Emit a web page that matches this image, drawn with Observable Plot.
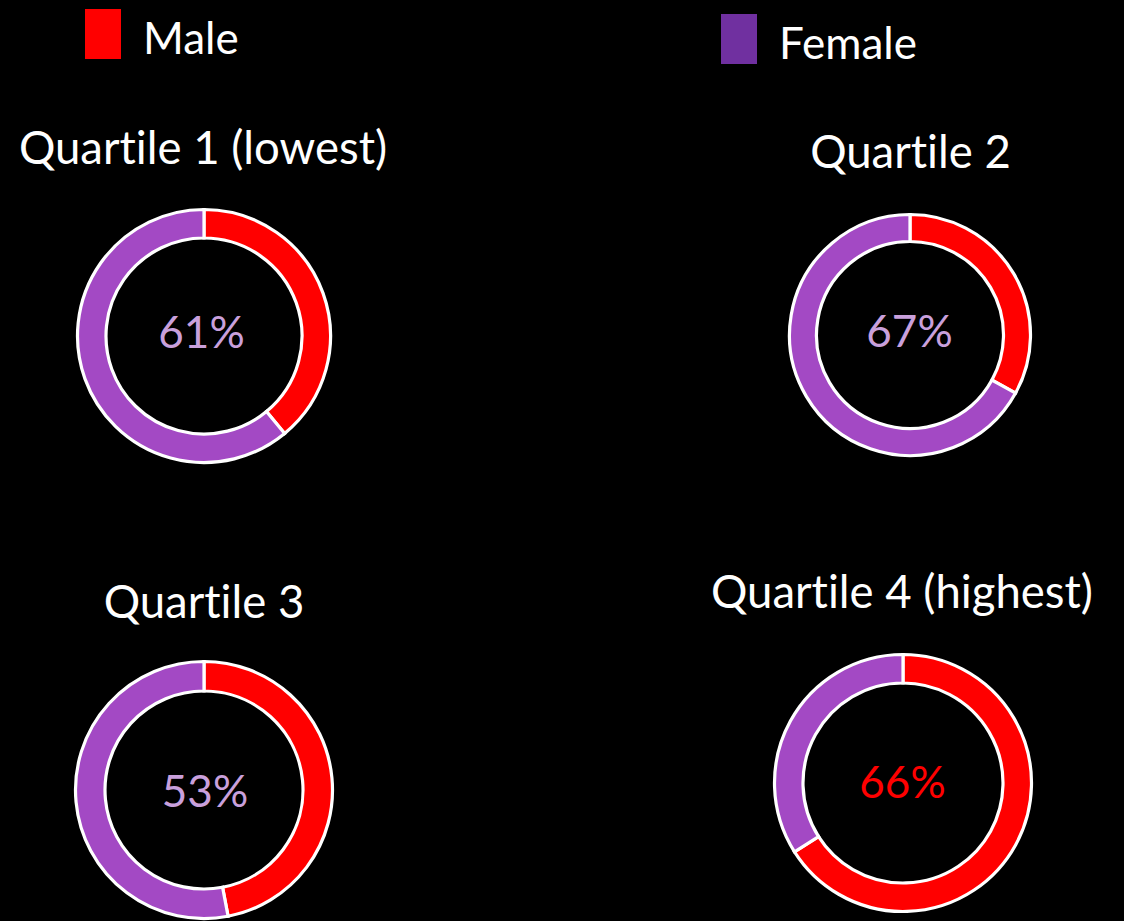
<!DOCTYPE html>
<html>
<head>
<meta charset="utf-8">
<script src="https://cdn.jsdelivr.net/npm/d3@7"></script>
<script src="https://cdn.jsdelivr.net/npm/@observablehq/plot@0.6"></script>
<style>
  html, body { margin: 0; padding: 0; background: #000; }
  body { position: relative; width: 1124px; height: 921px; overflow: hidden; }
  #chart { position: absolute; left: 0; top: 0; }
  .leg { position: absolute; }
  text, .leg { font-variant-ligatures: none; font-feature-settings: "liga" 0, "clig" 0; }
</style>
</head>
<body>
<div id="chart"></div>
<div id="legMale" class="leg"></div>
<div id="legFemale" class="leg"></div>
<script>
// ---- data ----
const quartiles = ["Quartile 1 (lowest)", "Quartile 2", "Quartile 3", "Quartile 4 (highest)"];
const sexes = ["Male", "Female"];
const maleShare = [39, 33, 47, 66];
const femaleShare = [61, 67, 53, 34];

// ---- colours / styles ----
const sliceColors = ["#ff0000", "#a349c4"];
const legendColors = ["#ff0000", "#7030a0"];
const labelColors = {Male: "#ff0000", Female: "#c9a0dc"};
const FONT = "Lato, 'Open Sans', sans-serif";

// ---- layout (page pixels) ----
const layout = [
  {cx: 204, cy: 336, rOuter: 126.5, rInner: 98,  titleX: 202.5, titleY: 163, labelX: 201, labelY: 347},
  {cx: 910, cy: 335, rOuter: 120.5, rInner: 93.5, titleX: 910,  titleY: 167, labelX: 909, labelY: 346},
  {cx: 204, cy: 790, rOuter: 128.5, rInner: 99,  titleX: 203.5, titleY: 617, labelX: 204.5, labelY: 806},
  {cx: 903, cy: 783, rOuter: 128.5, rInner: 100, titleX: 901.5, titleY: 607, labelX: 902, labelY: 797}
];

// ---- tables built from the data ----
const slices = quartiles.flatMap((q, i) => [
  {quartile: q, sex: "Male", share: maleShare[i]},
  {quartile: q, sex: "Female", share: femaleShare[i]}
]);
const panels = quartiles.map((q, i) => {
  const dom = maleShare[i] >= femaleShare[i] ? "Male" : "Female";
  return {
    quartile: q,
    dominant: dom,
    label: `${Math.max(maleShare[i], femaleShare[i])}%`,
    ...layout[i]
  };
});

const color = Plot.scale({color: {type: "ordinal", domain: sexes, range: sliceColors}});

function donuts(index, scales) {
  const g = d3.create("svg:g");
  panels.forEach(p => {
    const rows = slices.filter(s => s.quartile === p.quartile);
    const arcs = d3.pie().value(s => s.share).sort(null)(rows);
    const arc = d3.arc().innerRadius(p.rInner).outerRadius(p.rOuter);
    g.append("g")
      .attr("transform", `translate(${scales.x(p.cx)},${scales.y(p.cy)})`)
      .selectAll("path")
      .data(arcs)
      .join("path")
      .attr("d", arc)
      .attr("fill", a => color.apply(a.data.sex))
      .attr("stroke", "white")
      .attr("stroke-width", 3.2)
      .attr("stroke-linejoin", "miter");
  });
  return g.node();
}

const chart = Plot.plot({
  width: 1124,
  height: 921,
  margin: 0,
  style: {background: "#000", overflow: "visible"},
  x: {domain: [0, 1124], range: [0, 1124], axis: null},
  y: {domain: [0, 921], range: [0, 921], axis: null},
  marks: [
    donuts,
    Plot.text(panels, {
      x: "titleX", y: "titleY", text: "quartile",
      fill: "white", fontSize: 45.5, fontFamily: FONT,
      textAnchor: "middle", lineAnchor: "bottom"
    }),
    Plot.text(panels, {
      x: "labelX", y: "labelY", text: "label",
      fill: d => labelColors[d.dominant], fontSize: 44, fontFamily: FONT,
      textAnchor: "middle", lineAnchor: "bottom"
    })
  ]
});
document.getElementById("chart").append(chart);

// ---- legend (Plot swatches, one item per position) ----
const legPos = {Male: {left: 85, top: 11}, Female: {left: 721, top: 16}};
sexes.forEach((s, i) => {
  const leg = Plot.legend({
    color: {type: "ordinal", domain: [s], range: [legendColors[i]]},
    legend: "swatches",
    swatchWidth: 36,
    swatchHeight: 50,
    style: {fontSize: "44px", fontFamily: FONT, color: "white", background: "transparent", margin: "0"}
  });
  leg.querySelectorAll("svg").forEach(sv => { sv.style.position = "relative"; sv.style.top = "-3px"; });
  const host = document.getElementById("leg" + s);
  host.style.left = legPos[s].left + "px";
  host.style.top = legPos[s].top + "px";
  host.append(leg);
});
</script>
</body>
</html>
